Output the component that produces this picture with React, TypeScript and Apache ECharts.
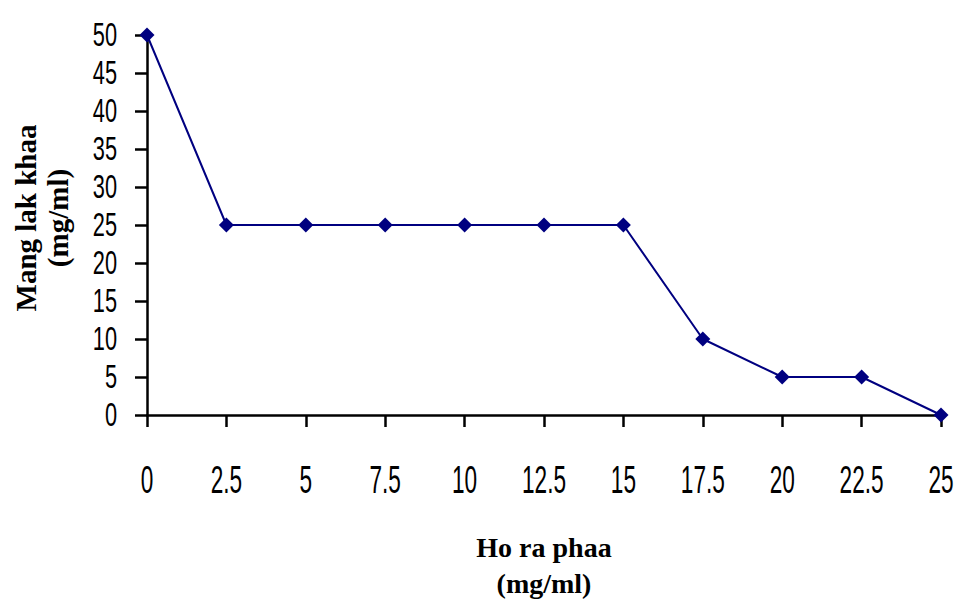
import React, { useEffect, useRef } from "react";
import * as echarts from "echarts";

const xValues = [0, 2.5, 5, 7.5, 10, 12.5, 15, 17.5, 20, 22.5, 25];
const yValues = [50, 25, 25, 25, 25, 25, 25, 10, 5, 5, 0];
const xTitle = "Ho ra phaa\n(mg/ml)";
const yTitle = "Mang lak khaa\n(mg/ml)";

// Narrow the numeric tick labels horizontally (the reference uses a very condensed face)
function condenseLabels(root: HTMLElement | null) {
  if (!root) return;
  root.querySelectorAll("text").forEach((t) => {
    const el = t as SVGTextElement;
    if (el.getAttribute("data-cond")) return;
    if (!/^[\d.]+$/.test((el.textContent || "").trim())) return;
    const anchor = el.getAttribute("text-anchor") || "";
    const sx = anchor === "end" ? 0.66 : 0.58;
    const x = parseFloat(el.getAttribute("x") || "0");
    const y = parseFloat(el.getAttribute("y") || "0");
    const tr = el.getAttribute("transform") || "";
    el.setAttribute(
      "transform",
      `${tr} translate(${x} ${y}) scale(${sx} 1) translate(${-x} ${-y})`.trim()
    );
    el.setAttribute("data-cond", "1");
  });
}

export default function App() {
  const ref = useRef<HTMLDivElement>(null);
  useEffect(() => {
    const chart = echarts.init(ref.current!, null, { renderer: "svg" });
    const labelFont = "Liberation Sans";
    const titleStyle = {
      fontWeight: "bold",
      fontFamily: "Liberation Serif",
      fill: "#000",
      align: "center",
      verticalAlign: "middle",
    };
    chart.setOption({
      animation: false,
      backgroundColor: "#ffffff",
      grid: {
        left: 147,
        right: 18,
        top: 35,
        bottom: 186,
        containLabel: false,
        outerBoundsMode: "none",
      },
      xAxis: {
        type: "value",
        min: 0,
        max: 25,
        interval: 2.5,
        splitLine: { show: false },
        axisLine: { onZero: false, lineStyle: { color: "#000", width: 2.5 } },
        axisTick: { show: true, inside: false, length: 12, lineStyle: { color: "#000", width: 2.5 } },
        axisLabel: { color: "#000", fontFamily: labelFont, fontSize: 39, margin: 45 },
      },
      yAxis: {
        type: "value",
        min: 0,
        max: 50,
        interval: 5,
        splitLine: { show: false },
        axisLine: { show: true, onZero: false, lineStyle: { color: "#000", width: 2.5 } },
        axisTick: { show: true, inside: false, length: 12, lineStyle: { color: "#000", width: 2.5 } },
        axisLabel: { color: "#000", fontFamily: labelFont, fontSize: 33, margin: 30 },
      },
      series: [
        {
          type: "line",
          data: xValues.map((x, i) => [x, yValues[i]]),
          symbol: "diamond",
          symbolSize: 15,
          lineStyle: { color: "#000080", width: 2 },
          itemStyle: { color: "#000080" },
        },
      ],
      graphic: [
        {
          type: "text",
          x: 544,
          y: 565,
          style: { ...titleStyle, fontSize: 28, text: xTitle, lineHeight: 36 },
        },
        {
          type: "text",
          x: 42,
          y: 218,
          rotation: Math.PI / 2,
          style: { ...titleStyle, fontSize: 29, text: yTitle, lineHeight: 32 },
        },
      ],
    });
    condenseLabels(ref.current);
    chart.on("finished", () => condenseLabels(ref.current));
    return () => chart.dispose();
  }, []);
  return (
    <div
      ref={ref}
      style={{ width: 959, height: 601, position: "absolute", left: 0, top: 0, overflow: "hidden" }}
    />
  );
}
